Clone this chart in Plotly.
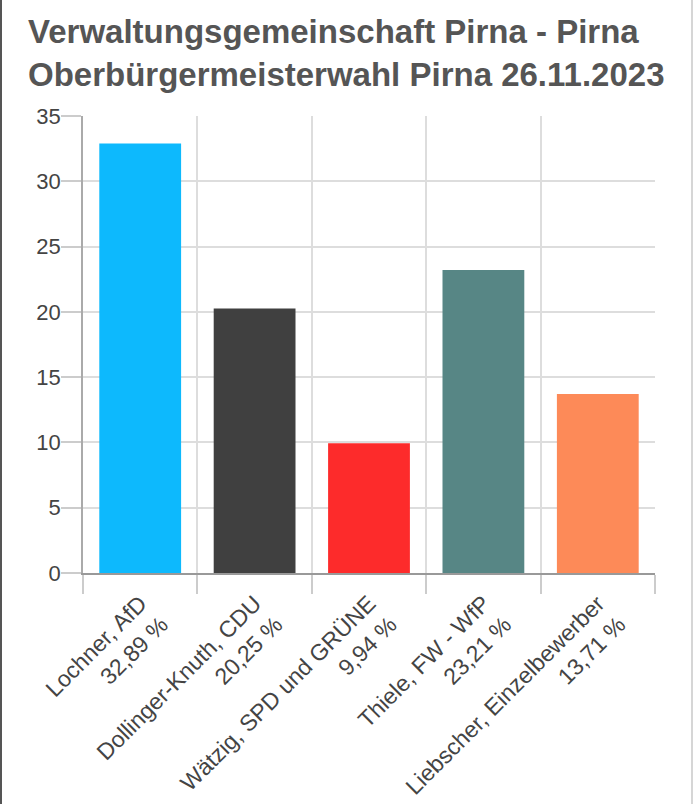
import plotly.graph_objects as go

candidates = ["Lochner, AfD", "Dollinger-Knuth, CDU", "Wätzig, SPD und GRÜNE",
              "Thiele, FW - WfP", "Liebscher, Einzelbewerber"]
pct_labels = ["32,89 %", "20,25 %", "9,94 %", "23,21 %", "13,71 %"]
values = [32.89, 20.25, 9.94, 23.21, 13.71]
colors = ["#0db9fd", "#404040", "#fd2b2b", "#578685", "#fd8a58"]
y_ticks = [0, 5, 10, 15, 20, 25, 30, 35]
title_lines = ["Verwaltungsgemeinschaft Pirna - Pirna", "Oberbürgermeisterwahl Pirna 26.11.2023"]

W, H = 694, 804
L, R, T, B = 83, 655, 116, 573

cats = [f"{c}<br>{p}" for c, p in zip(candidates, pct_labels)]

fig = go.Figure(go.Bar(x=cats, y=values, marker=dict(color=colors, line=dict(width=0)),
                       hoverinfo="skip"))

font_family = "Liberation Sans, Arial, sans-serif"
fig.update_layout(
    width=W, height=H,
    margin=dict(l=L, r=W - R, t=T, b=H - B, pad=0, autoexpand=False),
    paper_bgcolor="white", plot_bgcolor="white",
    bargap=0.285,
    showlegend=False,
    font=dict(family=font_family, color="#444444", size=22),
    xaxis=dict(tickson="boundaries", ticks="outside", ticklen=19, tickcolor="#cccccc",
               tickwidth=1.5,
               showgrid=True, gridcolor="#dddddd", gridwidth=1.5,
               showline=True, linecolor="#999999", linewidth=2,
               tickangle=-45, tickfont=dict(size=23, color="#444444"),
               ticklabelstandoff=6, automargin=False,
               fixedrange=True),
    yaxis=dict(range=[0, 35], tickvals=y_ticks, ticks="outside", ticklen=20,
               tickcolor="#cccccc", tickwidth=1.5,
               showgrid=True, gridcolor="#dddddd", gridwidth=1.5,
               showline=True, linecolor="#aaaaaa", linewidth=1.5,
               zeroline=False, tickfont=dict(size=22, color="#444444"),
               ticklabelstandoff=-4,
               automargin=False, fixedrange=True),
)

pw, ph = R - L, B - T
def px(x):
    return (x - L) / pw
def py(y):
    return (B - y) / ph

fig.add_annotation(text="<b>" + "<br>".join(title_lines) + "</b>",
                   xref="paper", yref="paper", x=px(26), y=py(11),
                   xanchor="left", yanchor="top", align="left", showarrow=False,
                   font=dict(family=font_family, size=33, color="#555555"))

fig.add_shape(type="rect", xref="paper", yref="paper",
              x0=px(0), x1=px(2), y0=py(H), y1=py(0),
              fillcolor="#555555", line=dict(width=0), layer="above")
fig.add_shape(type="rect", xref="paper", yref="paper",
              x0=px(691), x1=px(693), y0=py(H), y1=py(0),
              fillcolor="#d6d6d6", line=dict(width=0), layer="above")

fig.write_html("out.html", config={"displayModeBar": False},
               post_script="document.body.style.margin='0';document.body.style.overflow='hidden';")
